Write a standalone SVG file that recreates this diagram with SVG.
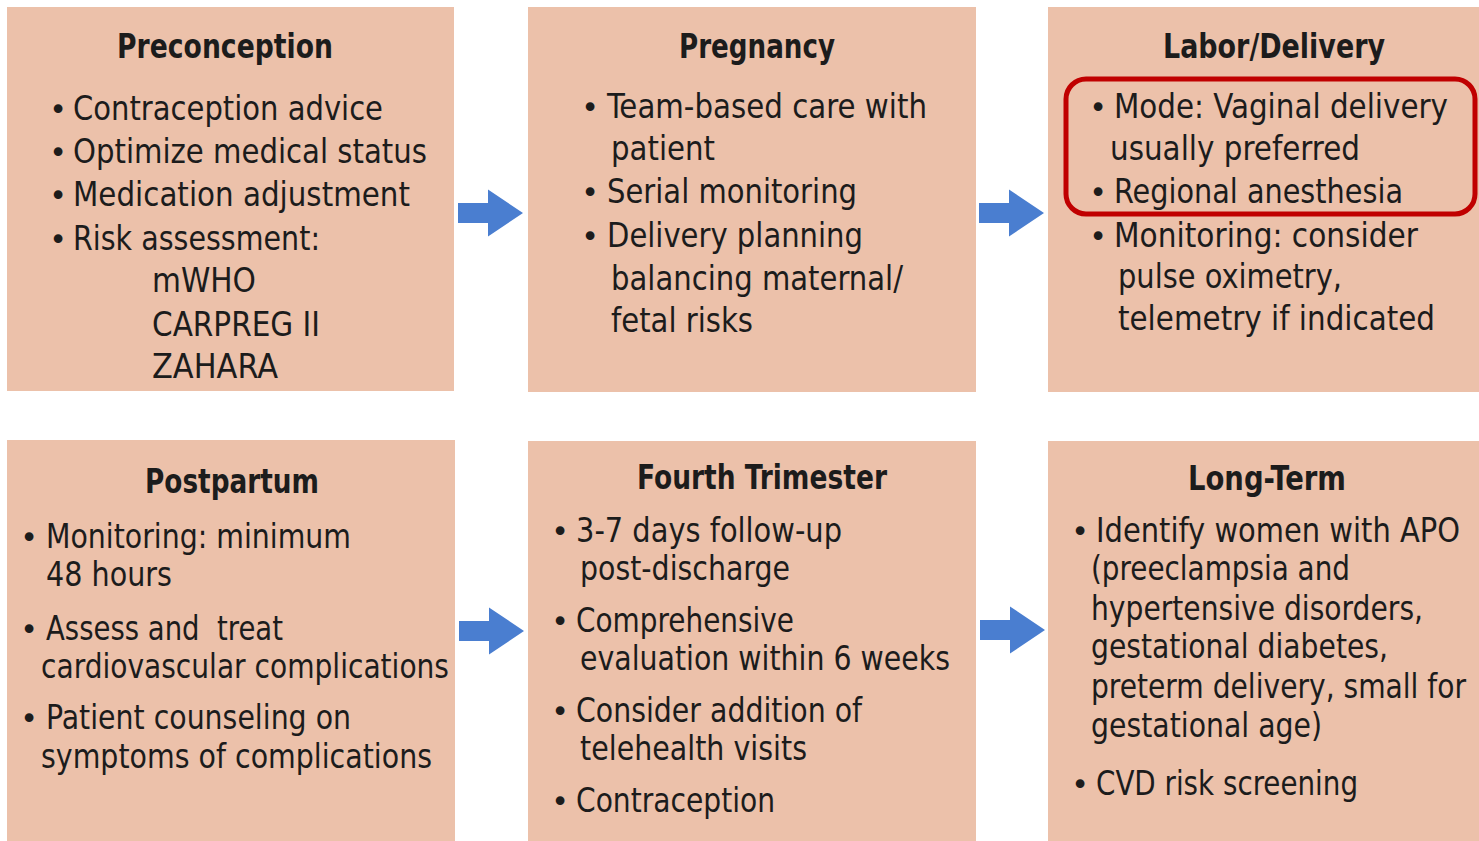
<svg xmlns="http://www.w3.org/2000/svg" width="1479" height="841" viewBox="0 0 1479 841">
<style>
.box{fill:#ECC1AA;}
.t{font-family:"DejaVu Sans Condensed","DejaVu Sans","Liberation Sans",sans-serif;font-size:34px;fill:#1c1c1c;}
.h{font-family:"DejaVu Sans Condensed","DejaVu Sans","Liberation Sans",sans-serif;font-size:34px;font-weight:bold;fill:#1c1c1c;}
.b{font-family:"DejaVu Sans","Liberation Sans",sans-serif;font-size:30px;fill:#1c1c1c;text-anchor:middle;}
.arrow{fill:#4A7ED0;}
.hl{fill:none;stroke:#C00000;stroke-width:5;}
</style>
<defs>
<path id="arr" d="M0,-10 H30 V-23.5 L65,0 L30,23.5 V10 H0 Z"/>
</defs>
<rect width="1479" height="841" fill="#ffffff"/>

<g id="preconception">
<rect class="box" x="7" y="7" width="447" height="384"/>
<text class="h" x="117" y="58" textLength="216" lengthAdjust="spacingAndGlyphs">Preconception</text>
<text class="b" x="58" y="120">•</text>
<text class="t" x="73" y="120" textLength="310" lengthAdjust="spacingAndGlyphs">Contraception advice</text>
<text class="b" x="58" y="163">•</text>
<text class="t" x="73" y="163" textLength="354" lengthAdjust="spacingAndGlyphs">Optimize medical status</text>
<text class="b" x="58" y="206">•</text>
<text class="t" x="73" y="206" textLength="337" lengthAdjust="spacingAndGlyphs">Medication adjustment</text>
<text class="b" x="58" y="250">•</text>
<text class="t" x="73" y="250" textLength="247" lengthAdjust="spacingAndGlyphs">Risk assessment:</text>
<text class="t" x="152" y="292" textLength="104" lengthAdjust="spacingAndGlyphs">mWHO</text>
<text class="t" x="152" y="336" textLength="168" lengthAdjust="spacingAndGlyphs">CARPREG II</text>
<text class="t" x="152" y="378" textLength="126" lengthAdjust="spacingAndGlyphs">ZAHARA</text>
</g>

<g id="pregnancy">
<rect class="box" x="528" y="7" width="448" height="385"/>
<text class="h" x="679" y="58" textLength="156" lengthAdjust="spacingAndGlyphs">Pregnancy</text>
<text class="b" x="590" y="118">•</text>
<text class="t" x="607" y="118" textLength="320" lengthAdjust="spacingAndGlyphs">Team-based care with</text>
<text class="t" x="611" y="160" textLength="104" lengthAdjust="spacingAndGlyphs">patient</text>
<text class="b" x="590" y="203">•</text>
<text class="t" x="607" y="203" textLength="250" lengthAdjust="spacingAndGlyphs">Serial monitoring</text>
<text class="b" x="590" y="247">•</text>
<text class="t" x="607" y="247" textLength="256" lengthAdjust="spacingAndGlyphs">Delivery planning</text>
<text class="t" x="611" y="290" textLength="292" lengthAdjust="spacingAndGlyphs">balancing maternal/</text>
<text class="t" x="611" y="332" textLength="142" lengthAdjust="spacingAndGlyphs">fetal risks</text>
</g>

<g id="labor-delivery">
<rect class="box" x="1048" y="7" width="431" height="385"/>
<text class="h" x="1163" y="58" textLength="222" lengthAdjust="spacingAndGlyphs">Labor/Delivery</text>
<text class="b" x="1098" y="118">•</text>
<text class="t" x="1114" y="118" textLength="334" lengthAdjust="spacingAndGlyphs">Mode: Vaginal delivery</text>
<text class="t" x="1110" y="160" textLength="250" lengthAdjust="spacingAndGlyphs">usually preferred</text>
<text class="b" x="1098" y="203">•</text>
<text class="t" x="1114" y="203" textLength="289" lengthAdjust="spacingAndGlyphs">Regional anesthesia</text>
<text class="b" x="1098" y="247">•</text>
<text class="t" x="1114" y="247" textLength="304" lengthAdjust="spacingAndGlyphs">Monitoring: consider</text>
<text class="t" x="1118" y="288" textLength="224" lengthAdjust="spacingAndGlyphs">pulse oximetry,</text>
<text class="t" x="1118" y="330" textLength="317" lengthAdjust="spacingAndGlyphs">telemetry if indicated</text>
</g>

<g id="highlight">
<rect class="hl" x="1066" y="79" width="409" height="135" rx="20" ry="20"/>
</g>

<g id="postpartum">
<rect class="box" x="7" y="440" width="448" height="401"/>
<text class="h" x="145" y="493" textLength="174" lengthAdjust="spacingAndGlyphs">Postpartum</text>
<text class="b" x="29" y="548">•</text>
<text class="t" x="46" y="548" textLength="305" lengthAdjust="spacingAndGlyphs">Monitoring: minimum</text>
<text class="t" x="46" y="586" textLength="126" lengthAdjust="spacingAndGlyphs">48 hours</text>
<text class="b" x="29" y="640">•</text>
<text class="t" x="46" y="640" textLength="237" lengthAdjust="spacingAndGlyphs" xml:space="preserve">Assess and  treat</text>
<text class="t" x="41" y="678" textLength="408" lengthAdjust="spacingAndGlyphs">cardiovascular complications</text>
<text class="b" x="29" y="729">•</text>
<text class="t" x="46" y="729" textLength="305" lengthAdjust="spacingAndGlyphs">Patient counseling on</text>
<text class="t" x="41" y="768" textLength="391" lengthAdjust="spacingAndGlyphs">symptoms of complications</text>
</g>

<g id="fourth-trimester">
<rect class="box" x="528" y="441" width="448" height="400"/>
<text class="h" x="637" y="489" textLength="250" lengthAdjust="spacingAndGlyphs">Fourth Trimester</text>
<text class="b" x="560" y="542">•</text>
<text class="t" x="576" y="542" textLength="266" lengthAdjust="spacingAndGlyphs">3-7 days follow-up</text>
<text class="t" x="580" y="580" textLength="210" lengthAdjust="spacingAndGlyphs">post-discharge</text>
<text class="b" x="560" y="632">•</text>
<text class="t" x="576" y="632" textLength="218" lengthAdjust="spacingAndGlyphs">Comprehensive</text>
<text class="t" x="580" y="670" textLength="370" lengthAdjust="spacingAndGlyphs">evaluation within 6 weeks</text>
<text class="b" x="560" y="722">•</text>
<text class="t" x="576" y="722" textLength="286" lengthAdjust="spacingAndGlyphs">Consider addition of</text>
<text class="t" x="580" y="760" textLength="227" lengthAdjust="spacingAndGlyphs">telehealth visits</text>
<text class="b" x="560" y="812">•</text>
<text class="t" x="576" y="812" textLength="199" lengthAdjust="spacingAndGlyphs">Contraception</text>
</g>

<g id="long-term">
<rect class="box" x="1048" y="441" width="431" height="400"/>
<text class="h" x="1188" y="490" textLength="158" lengthAdjust="spacingAndGlyphs">Long-Term</text>
<text class="b" x="1080" y="542">•</text>
<text class="t" x="1096" y="542" textLength="364" lengthAdjust="spacingAndGlyphs">Identify women with APO</text>
<text class="t" x="1091" y="580" textLength="259" lengthAdjust="spacingAndGlyphs">(preeclampsia and</text>
<text class="t" x="1091" y="620" textLength="332" lengthAdjust="spacingAndGlyphs">hypertensive disorders,</text>
<text class="t" x="1091" y="658" textLength="297" lengthAdjust="spacingAndGlyphs">gestational diabetes,</text>
<text class="t" x="1091" y="698" textLength="375" lengthAdjust="spacingAndGlyphs">preterm delivery, small for</text>
<text class="t" x="1091" y="737" textLength="231" lengthAdjust="spacingAndGlyphs">gestational age)</text>
<text class="b" x="1080" y="795">•</text>
<text class="t" x="1096" y="795" textLength="262" lengthAdjust="spacingAndGlyphs">CVD risk screening</text>
</g>

<g id="connectors">
<use href="#arr" class="arrow" x="458" y="213"/>
<use href="#arr" class="arrow" x="979" y="213"/>
<use href="#arr" class="arrow" x="459" y="631"/>
<use href="#arr" class="arrow" x="980" y="630"/>
</g>
</svg>
